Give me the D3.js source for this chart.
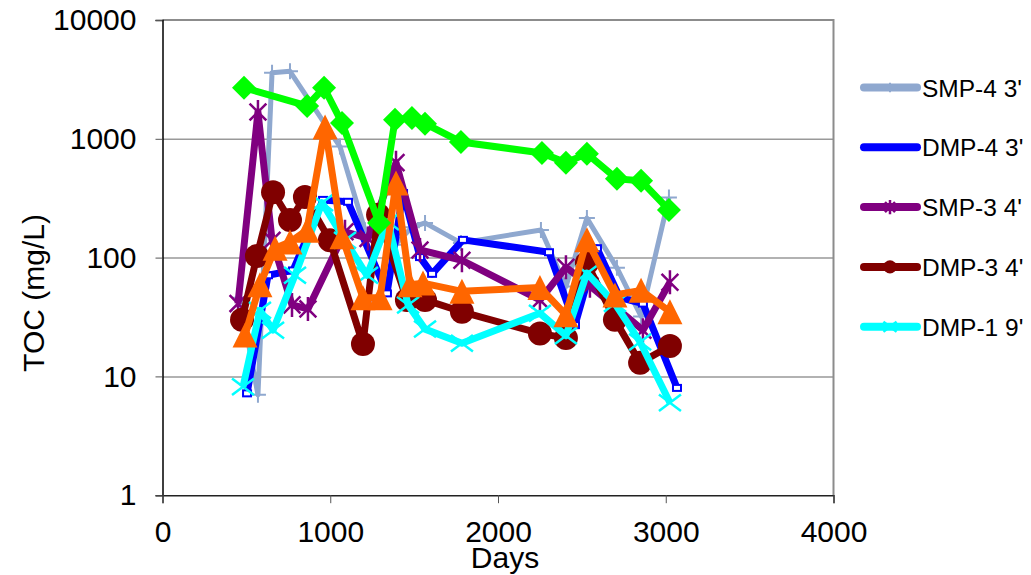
<!DOCTYPE html>
<html>
<head>
<meta charset="utf-8">
<script src="https://cdn.jsdelivr.net/npm/d3@7"></script>
<style>
    body { margin: 0; background: #fff; }
    #canvas { width: 1031px; height: 575px; }
    text { font-family: "Liberation Sans", Arial, sans-serif; }
</style>
</head>
<body>
<div id="canvas"></div>
<script>
// Values (days, TOC mg/L)
var smp4Days = [462, 569, 653, 760, 1058, 1207, 1386, 1487, 1565, 1779, 2256, 2405, 2530, 2709, 2853, 3019];
var smp4Toc  = [46, 7, 3600, 3700, 860, 170, 128, 180, 196, 133, 171, 57, 215, 82, 32, 320];

var dmp4Days = [504, 629, 778, 957, 1106, 1338, 1434, 1535, 1607, 1791, 2304, 2459, 2590, 2727, 2864, 3067];
var dmp4Toc  = [7.2, 71, 78, 306, 295, 50, 350, 101, 73, 141, 111, 27, 120, 46, 41, 8];

var smp3Days = [450, 569, 653, 772, 867, 1088, 1225, 1392, 1535, 1785, 2250, 2405, 2548, 2864, 3025];
var smp3Toc  = [41, 1680, 140, 40, 37, 165, 145, 630, 116, 95, 44, 83, 58, 24.5, 62];

var dmp3Days = [474, 563, 659, 760, 849, 998, 1195, 1285, 1457, 1565, 1785, 2250, 2405, 2530, 2697, 2847, 3025];
var dmp3Toc  = [30, 103, 355, 207, 323, 140, 18.7, 230, 44, 44, 35, 23, 21, 90, 30, 13, 18];

var dmp1Days = [480, 581, 659, 790, 951, 1088, 1219, 1344, 1464, 1565, 1785, 2250, 2405, 2530, 2697, 2847, 3025];
var dmp1Toc  = [8.2, 36, 24.5, 71, 290, 140, 71, 200, 40, 25, 19, 34, 22, 74, 41, 19.5, 6];

// two more series whose legend entries are cut off
var orangeDays = [492, 581, 671, 760, 861, 969, 1070, 1195, 1297, 1392, 1475, 1553, 1785, 2250, 2405, 2530, 2697, 2853, 3025];
var orangeToc  = [22.3, 59, 120, 135, 170, 1260, 150, 46, 46, 425, 59, 61, 52, 56, 33, 141, 48.5, 53, 35];

var greenDays = [486, 862, 963, 1070, 1291, 1386, 1487, 1565, 1779, 2262, 2405, 2530, 2709, 2853, 3019];
var greenToc  = [2690, 1890, 2690, 1360, 196, 1445, 1500, 1340, 940, 760, 630, 750, 460, 443, 252];

var xTicks = [0, 1000, 2000, 3000, 4000];
var yTicks = [1, 10, 100, 1000, 10000];

var series = [
    { name: "SMP-4 3'", days: smp4Days, toc: smp4Toc, color: "#8fa8cf", width: 5, marker: "plus" },
    { name: "DMP-4 3'", days: dmp4Days, toc: dmp4Toc, color: "#0000ff", width: 7, marker: "square" },
    { name: "SMP-3 4'", days: smp3Days, toc: smp3Toc, color: "#800080", width: 7, marker: "star" },
    { name: "DMP-3 4'", days: dmp3Days, toc: dmp3Toc, color: "#800000", width: 7, marker: "circle" },
    { name: "DMP-1 9'", days: dmp1Days, toc: dmp1Toc, color: "#00ffff", width: 7, marker: "cross" },
    { name: "", days: orangeDays, toc: orangeToc, color: "#ff6600", width: 7, marker: "triangle" },
    { name: "", days: greenDays, toc: greenToc, color: "#00ff00", width: 7, marker: "diamond" }
];

var svg = d3.select('#canvas').append('svg')
    .attr('width', 1031)
    .attr('height', 575);

var x = d3.scaleLinear().domain([0, 4000]).range([162.5, 833.5]);
var y = d3.scaleLog().domain([1, 10000]).range([495.2, 20]);

// gridlines
svg.append('g')
    .attr('transform', 'translate(162.5,0)')
    .call(d3.axisLeft(y).tickValues([10, 100, 1000]).tickSize(-671).tickFormat(''))
    .call(function(g) {
        g.select('.domain').remove();
        g.selectAll('line').attr('stroke', '#999').attr('stroke-width', 1.5);
    });

// plot frame (top + right in grey)
svg.append('path')
    .attr('d', 'M162.5,20H833.5V495.2')
    .attr('fill', 'none')
    .attr('stroke', '#8c8c8c')
    .attr('stroke-width', 2);

// y axis
svg.append('g')
    .attr('transform', 'translate(162.5,0)')
    .call(d3.axisLeft(y).tickValues(yTicks).tickSize(7).tickPadding(19).tickFormat(d3.format('d')))
    .call(function(g) {
        g.select('.domain').attr('stroke', '#000').attr('stroke-width', 1.5);
        g.selectAll('line').attr('stroke', '#555').attr('stroke-width', 1);
        g.selectAll('text').attr('font-size', 30).attr('fill', '#000')
            .attr('font-family', '"Liberation Sans", Arial, sans-serif');
    });

// x axis
svg.append('g')
    .attr('transform', 'translate(0,495.2)')
    .call(d3.axisBottom(x).tickValues(xTicks).tickSize(8).tickPadding(18).tickFormat(d3.format('d')))
    .call(function(g) {
        g.select('.domain').attr('stroke', '#222').attr('stroke-width', 1.5);
        g.selectAll('line').attr('stroke', '#555').attr('stroke-width', 1);
        g.selectAll('text').attr('font-size', 30).attr('fill', '#000')
            .attr('font-family', '"Liberation Sans", Arial, sans-serif');
    });

// axis titles
svg.append('text')
    .attr('x', 505).attr('y', 568)
    .attr('text-anchor', 'middle')
    .attr('font-size', 30)
    .text('Days');

svg.append('text')
    .attr('transform', 'translate(44,293) rotate(-90)')
    .attr('text-anchor', 'middle')
    .attr('font-size', 30)
    .text('TOC (mg/L)');

// Draws one marker of the given kind at cx, cy.
var drawMarker = function(g, kind, cx, cy, color, s) {
    var k = s || 1;
    if (kind === 'plus') {
        g.append('path')
            .attr('d', 'M' + (cx - 8 * k) + ',' + cy + 'H' + (cx + 8 * k) + 'M' + cx + ',' + (cy - 8 * k) + 'V' + (cy + 8 * k))
            .attr('stroke', color).attr('stroke-width', 2);
    } else if (kind === 'square') {
        g.append('rect')
            .attr('x', cx - 4 * k).attr('y', cy - 3 * k)
            .attr('width', 8 * k).attr('height', 6 * k)
            .attr('fill', '#fff').attr('stroke', color).attr('stroke-width', 2);
    } else if (kind === 'star') {
        var r = 12 * k, d = r * 0.7;
        g.append('path')
            .attr('d', 'M' + (cx - d) + ',' + (cy - d) + 'L' + (cx + d) + ',' + (cy + d) +
                'M' + (cx - d) + ',' + (cy + d) + 'L' + (cx + d) + ',' + (cy - d) +
                'M' + cx + ',' + (cy - r) + 'V' + (cy + r))
            .attr('stroke', color).attr('stroke-width', 2.5);
    } else if (kind === 'circle') {
        g.append('circle')
            .attr('cx', cx).attr('cy', cy).attr('r', 12 * k)
            .attr('fill', color);
    } else if (kind === 'cross') {
        var c = 11 * k;
        g.append('path')
            .attr('d', 'M' + (cx - c) + ',' + (cy - c * 0.75) + 'L' + (cx + c) + ',' + (cy + c * 0.75) +
                'M' + (cx - c) + ',' + (cy + c * 0.75) + 'L' + (cx + c) + ',' + (cy - c * 0.75))
            .attr('stroke', color).attr('stroke-width', 2.5);
    } else if (kind === 'triangle') {
        var t = 12.5 * k;
        g.append('path')
            .attr('d', 'M' + cx + ',' + (cy - t) + 'L' + (cx + t) + ',' + (cy + t) + 'L' + (cx - t) + ',' + (cy + t) + 'Z')
            .attr('fill', color);
    } else if (kind === 'diamond') {
        var m = 12 * k;
        g.append('path')
            .attr('d', 'M' + cx + ',' + (cy - m) + 'L' + (cx + m) + ',' + cy + 'L' + cx + ',' + (cy + m) + 'L' + (cx - m) + ',' + cy + 'Z')
            .attr('fill', color);
    }
};

var line = d3.line()
    .x(function(d) { return x(d[0]); })
    .y(function(d) { return y(d[1]); });

// series, in Excel order so later ones sit on top
series.forEach(function(s) {
    var pts = s.days.map(function(d, i) { return [d, s.toc[i]]; });
    var g = svg.append('g');
    g.append('path')
        .datum(pts)
        .attr('d', line)
        .attr('fill', 'none')
        .attr('stroke', s.color)
        .attr('stroke-width', s.width)
        .attr('stroke-linejoin', 'round');
    pts.forEach(function(p) {
        drawMarker(g, s.marker, x(p[0]), y(p[1]), s.color);
    });
});

// legend: only the first five entries are visible
var legendY = d3.scaleLinear().domain([0, 1]).range([87.5, 147.3]);
series.slice(0, 5).forEach(function(s, i) {
    var ly = legendY(i);
    svg.append('line')
        .attr('x1', 864).attr('x2', 917)
        .attr('y1', ly).attr('y2', ly)
        .attr('stroke', s.color)
        .attr('stroke-width', 8)
        .attr('stroke-linecap', 'round');
    if (s.marker !== 'square') {
        drawMarker(svg, s.marker, 890, ly, s.color, s.marker === 'circle' ? 0.55 : 0.6);
    }
    svg.append('text')
        .attr('x', 922).attr('y', ly + 9)
        .attr('font-size', 24.5)
        .text(s.name);
});
</script>
</body>
</html>
